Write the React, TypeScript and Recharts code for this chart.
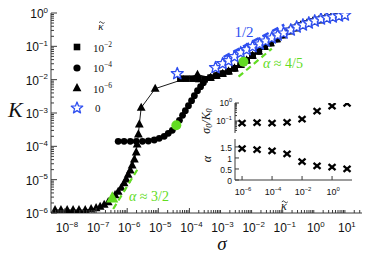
import React from "react";
import { Scatter, ScatterChart, XAxis, YAxis } from "recharts";

// main panel, values as log10(sigma), log10(K)
const triLogSigma = [-8.32, -8.13, -7.93, -7.74, -7.55, -7.35, -7.16, -7.0, -6.87, -6.74, -6.61, -6.48, -6.39, -6.29, -6.19, -6.1, -6.03, -5.97, -5.9, -5.84, -5.77, -5.71, -5.68, -5.64, -5.61, -5.55, -5.1, -3.74];
const triLogK = [-5.91, -5.91, -5.91, -5.91, -5.91, -5.91, -5.88, -5.85, -5.81, -5.75, -5.67, -5.55, -5.46, -5.36, -5.24, -5.1, -4.99, -4.85, -4.72, -4.57, -4.39, -4.18, -3.94, -3.64, -3.34, -2.84, -2.27, -1.85];

const circLogSigma = [-6.29, -6.1, -5.9, -5.71, -5.51, -5.32, -5.13, -4.97, -4.81, -4.68, -4.55, -4.42, -4.32, -4.22, -4.13, -4.03, -3.93, -3.84, -3.74, -3.64, -3.55];
const circLogK = [-3.85, -3.85, -3.85, -3.85, -3.85, -3.84, -3.81, -3.76, -3.7, -3.61, -3.52, -3.37, -3.22, -3.07, -2.93, -2.78, -2.63, -2.48, -2.33, -2.21, -2.09];

const sqLogSigma = [-4.29, -4.1, -3.9, -3.71, -3.51];
const sqLogK = [-1.97, -1.97, -1.97, -1.98, -1.99];

// upper branch where the three finite-kappa curves collapse
const bandLogSigma = [-3.32, -3.13, -2.93, -2.74, -2.55, -2.35, -2.16, -1.97, -1.77, -1.58, -1.39, -1.19, -1.0, -0.8, -0.61, -0.42, -0.22, -0.03, 0.16, 0.36, 0.55, 0.74, 0.94];
const bandLogK = [-1.94, -1.88, -1.82, -1.75, -1.66, -1.55, -1.42, -1.28, -1.15, -1.01, -0.9, -0.78, -0.66, -0.54, -0.45, -0.37, -0.31, -0.25, -0.21, -0.16, -0.13, -0.1, -0.07];

const starLogSigma = [-4.39, -3.16, -2.93, -2.74, -2.55, -2.35, -2.16, -1.97, -1.74, -1.55, -1.35, -1.16, -0.97, -0.74, -0.55, -0.35, -0.16, 0.03, 0.23, 0.42, 0.61, 0.81, 1.0];
const starLogK = [-1.82, -1.64, -1.52, -1.43, -1.31, -1.19, -1.1, -1.01, -0.93, -0.84, -0.75, -0.66, -0.6, -0.51, -0.42, -0.36, -0.3, -0.24, -0.18, -0.15, -0.12, -0.09, -0.06];

// green highlighted points used for the fits
const fitTriLogSigma = [-6.48];
const fitTriLogK = [-5.55];
const fitCircLogSigma = [-4.42, -2.26];
const fitCircLogK = [-3.37, -1.46];

// slope guides (end points)
const guide32Sigma = [-6.45, -5.61];
const guide32K = [-5.88, -4.6];
const guide45Sigma = [-2.42, -1.35];
const guide45K = [-1.91, -1.07];
const guide12Sigma = [-2.9, -0.95];
const guide12K = [-1.32, -0.35];

// inset
const insetLogKappa = [-6, -5, -4, -3, -2, -1, 0, 1];
const insetLogRatio = [-1.12, -1.09, -1.12, -1.07, -0.89, -0.45, -0.17, -0.02];
const insetAlpha = [1.42, 1.38, 1.32, 1.18, 0.83, 0.64, 0.58, 0.5];

// tick labels
const sigmaDecades = [-8, -7, -6, -5, -4, -3, -2, -1, 0, 1];
const kDecades = [-6, -5, -4, -3, -2, -1, 0];
const kappaLabelDecades = [-6, -4, -2, 0];
const ratioDecades = [-2, -1, 0];
const alphaTicks = [0, 0.5, 1, 1.5];

const AXIS = "#3a3a3a";
const BLUE = "#2f4ff0";
const GREEN = "#62dc22";
const SANS = "'Liberation Sans', Arial, sans-serif";
const SERIF = "'Liberation Serif', 'DejaVu Serif', serif";

const pts = (xs: number[], ys: number[]) => xs.map((x, i) => ({ x, y: ys[i] }));

const withMinors = (decades: number[], lo: number, hi: number) => {
  const out: number[] = [];
  for (let n = decades[0] - 1; n <= decades[decades.length - 1]; n++) {
    for (let k = 1; k <= 9; k++) {
      const v = n + Math.log10(k);
      if (v >= lo - 1e-9 && v <= hi + 1e-9) out.push(v);
    }
  }
  return out;
};

const SIGMA_DOMAIN: [number, number] = [-8.45, 1.55];
const K_DOMAIN: [number, number] = [-6, 0];
const KAPPA_DOMAIN: [number, number] = [-6.47, 1.33];

const sigmaTicks = withMinors(sigmaDecades, ...SIGMA_DOMAIN);
const kTicks = withMinors(kDecades, ...K_DOMAIN);
const ratioTicks = withMinors(ratioDecades, -2, 0);

const isDecade = (v: number) => Math.abs(v - Math.round(v)) < 1e-6;
const expText = (n: number) => (n < 0 ? `\u2212${-n}` : `${n}`);

function Pow10({ x, y, exp, size, anchor = "middle" }: { x: number; y: number; exp: number; size: number; anchor?: string }) {
  return (
    <text x={x} y={y} textAnchor={anchor} fontFamily={SANS} fontSize={size} fill="#111">
      10
      <tspan dy={-size * 0.45} fontSize={size * 0.66}>
        {expText(Math.round(exp))}
      </tspan>
    </text>
  );
}

// kappa with a drawn tilde above it
function KappaTilde({ x, y, size }: { x: number; y: number; size: number }) {
  const w = size * 0.25;
  const ty = y - size * 0.72;
  return (
    <g>
      <text x={x} y={y} textAnchor="middle" fontFamily={SERIF} fontStyle="italic" fontSize={size} fill="#111">κ</text>
      <path d={`M${x - w + 0.8},${ty + 0.5} q${w / 2},-${size * 0.16} ${w},0 t${w},0`} fill="none" stroke="#111" strokeWidth={0.8} />
    </g>
  );
}

type TickProps = { x?: number; y?: number; payload?: { value: number } };

// main panel ticks, all drawn inward
const MainBottomTick = ({ x = 0, y = 0, payload }: TickProps) => {
  const v = payload?.value ?? 0;
  const major = isDecade(v);
  return (
    <g>
      <line x1={x} y1={y} x2={x} y2={y - (major ? 5 : 3)} stroke={AXIS} />
      {major && <Pow10 x={x + 2} y={y + 19} exp={v} size={12} />}
    </g>
  );
};
const MainTopTick = ({ x = 0, y = 0, payload }: TickProps) => {
  const major = isDecade(payload?.value ?? 0);
  return <line x1={x} y1={y} x2={x} y2={y + (major ? 5 : 3)} stroke={AXIS} />;
};
const MainLeftTick = ({ x = 0, y = 0, payload }: TickProps) => {
  const v = payload?.value ?? 0;
  const major = isDecade(v);
  return (
    <g>
      <line x1={x} y1={y} x2={x + (major ? 6 : 3)} y2={y} stroke={AXIS} />
      {major && <Pow10 x={x - 3} y={y + 5} exp={v} size={12} anchor="end" />}
    </g>
  );
};
const MainRightTick = ({ x = 0, y = 0, payload }: TickProps) => {
  const major = isDecade(payload?.value ?? 0);
  return <line x1={x} y1={y} x2={x - (major ? 6 : 3)} y2={y} stroke={AXIS} />;
};

// inset ticks
const InsetBottomTick = (labels: boolean) => ({ x = 0, y = 0, payload }: TickProps) => {
  const v = payload?.value ?? 0;
  return (
    <g>
      <line x1={x} y1={y} x2={x} y2={y - 4} stroke={AXIS} />
      {labels && <Pow10 x={x + 1} y={y + 15} exp={v} size={9} />}
    </g>
  );
};
const InsetTopTick = ({ x = 0, y = 0 }: TickProps) => <line x1={x} y1={y} x2={x} y2={y + 4} stroke={AXIS} />;
const InsetRatioLeft = ({ x = 0, y = 0, payload }: TickProps) => {
  const v = payload?.value ?? 0;
  const major = isDecade(v);
  return (
    <g>
      <line x1={x} y1={y} x2={x + (major ? 4 : 2)} y2={y} stroke={AXIS} />
      {major && <Pow10 x={x - 3} y={y + 2.5} exp={v} size={8.5} anchor="end" />}
    </g>
  );
};
const InsetRatioRight = ({ x = 0, y = 0, payload }: TickProps) => {
  const major = isDecade(payload?.value ?? 0);
  return <line x1={x} y1={y} x2={x - (major ? 4 : 2)} y2={y} stroke={AXIS} />;
};
const InsetAlphaLeft = ({ x = 0, y = 0, payload }: TickProps) => (
  <g>
    <line x1={x} y1={y} x2={x + 4} y2={y} stroke={AXIS} />
    <text x={x - 3} y={y + 4} textAnchor="end" fontFamily={SANS} fontSize={8.5} fill="#111">
      {payload?.value}
    </text>
  </g>
);
const InsetAlphaRight = ({ x = 0, y = 0 }: TickProps) => <line x1={x} y1={y} x2={x - 4} y2={y} stroke={AXIS} />;

// marker shapes
const starPoints = (cx: number, cy: number, R: number, r: number) =>
  Array.from({ length: 10 }, (_, i) => {
    const a = -Math.PI / 2 + (i * Math.PI) / 5;
    const rad = i % 2 === 0 ? R : r;
    return `${cx + rad * Math.cos(a)},${cy + rad * Math.sin(a)}`;
  }).join(" ");
const triPoints = (cx: number, cy: number, s: number) =>
  `${cx},${cy - s * 0.62} ${cx - s * 0.55},${cy + s * 0.4} ${cx + s * 0.55},${cy + s * 0.4}`;

const SquareShape = (p: any) => <rect x={p.cx - 3.3} y={p.cy - 3.3} width={6.6} height={6.6} fill="#000" />;
const CircleShape = (p: any) => <circle cx={p.cx} cy={p.cy} r={3.4} fill="#000" />;
const TriShape = (p: any) => <polygon points={triPoints(p.cx, p.cy, 8)} fill="#000" />;
const StarShape = (p: any) => (
  <polygon points={starPoints(p.cx, p.cy, 6.3, 2.7)} fill="#fff" stroke={BLUE} strokeWidth={1.3} strokeLinejoin="round" />
);
const GreenCircle = (p: any) => <circle cx={p.cx} cy={p.cy} r={5} fill={GREEN} />;
const GreenTri = (p: any) => <polygon points={triPoints(p.cx, p.cy, 11)} fill={GREEN} />;
const CrossShape = (p: any) => (
  <g stroke="#000" strokeWidth={2.3}>
    <line x1={p.cx - 3.5} y1={p.cy - 3} x2={p.cx + 3.5} y2={p.cy + 3} />
    <line x1={p.cx - 3.5} y1={p.cy + 3} x2={p.cx + 3.5} y2={p.cy - 3} />
  </g>
);
const NoShape = () => <g />;

const thinLine = { stroke: "#000", strokeWidth: 0.9 };

function InsetPanel({ top, height, marginTop, xHeight, yDomain, yTicks, data, LeftTick, RightTick, labels }: any) {
  return (
    <div style={{ position: "absolute", left: 200, top, width: 156, height, background: "#fff" }}>
      <ScatterChart width={156} height={height} margin={{ top: marginTop, right: 4, bottom: 0, left: 0 }}>
        <XAxis type="number" dataKey="x" domain={KAPPA_DOMAIN} allowDataOverflow ticks={kappaLabelDecades} interval={0}
          height={xHeight} tickSize={0} tickMargin={0} tickLine={false} axisLine={{ stroke: AXIS }} tick={InsetBottomTick(labels)} />
        <XAxis xAxisId="top" orientation="top" type="number" domain={KAPPA_DOMAIN} allowDataOverflow ticks={kappaLabelDecades}
          interval={0} height={0} tickSize={0} tickMargin={0} tickLine={false} axisLine={{ stroke: AXIS }} tick={InsetTopTick} />
        <YAxis type="number" dataKey="y" domain={yDomain} allowDataOverflow ticks={yTicks} interval={0} width={35}
          tickSize={0} tickMargin={0} tickLine={false} axisLine={{ stroke: AXIS }} tick={LeftTick} />
        <YAxis yAxisId="right" orientation="right" type="number" domain={yDomain} allowDataOverflow ticks={yTicks} interval={0}
          width={0} tickSize={0} tickMargin={0} tickLine={false} axisLine={{ stroke: AXIS }} tick={RightTick} />
        <Scatter data={data} shape={CrossShape} isAnimationActive={false} />
      </ScatterChart>
    </div>
  );
}

export default function App() {
  return (
    <div style={{ position: "absolute", left: 0, top: 0, width: 390, height: 254, background: "#fff", overflow: "hidden" }}>
      <ScatterChart width={390} height={254} margin={{ top: 13, right: 28, bottom: 0, left: 0 }}>
        <XAxis type="number" dataKey="x" domain={SIGMA_DOMAIN} allowDataOverflow ticks={sigmaTicks} interval={0} height={41}
          tickSize={0} tickMargin={0} tickLine={false} axisLine={{ stroke: AXIS }} tick={MainBottomTick} />
        <XAxis xAxisId="top" orientation="top" type="number" domain={SIGMA_DOMAIN} allowDataOverflow ticks={sigmaTicks}
          interval={0} height={0} tickSize={0} tickMargin={0} tickLine={false} axisLine={{ stroke: AXIS }} tick={MainTopTick} />
        <YAxis type="number" dataKey="y" domain={K_DOMAIN} allowDataOverflow ticks={kTicks} interval={0} width={51}
          tickSize={0} tickMargin={0} tickLine={false} axisLine={{ stroke: AXIS }} tick={MainLeftTick} />
        <YAxis yAxisId="right" orientation="right" type="number" domain={K_DOMAIN} allowDataOverflow ticks={kTicks}
          interval={0} width={0} tickSize={0} tickMargin={0} tickLine={false} axisLine={{ stroke: AXIS }} tick={MainRightTick} />

        <Scatter data={pts([...triLogSigma, ...bandLogSigma], [...triLogK, ...bandLogK])} shape={TriShape} line={thinLine} lineType="joint" isAnimationActive={false} />
        <Scatter data={pts([...circLogSigma, ...bandLogSigma], [...circLogK, ...bandLogK])} shape={CircleShape} line={thinLine} lineType="joint" isAnimationActive={false} />
        <Scatter data={pts([...sqLogSigma, ...bandLogSigma], [...sqLogK, ...bandLogK])} shape={SquareShape} line={thinLine} lineType="joint" isAnimationActive={false} />

        <Scatter data={pts(guide32Sigma, guide32K)} shape={NoShape} line={{ stroke: GREEN, strokeWidth: 2.2, strokeDasharray: "6 4" }} lineType="joint" isAnimationActive={false} />
        <Scatter data={pts(guide45Sigma, guide45K)} shape={NoShape} line={{ stroke: GREEN, strokeWidth: 2.2, strokeDasharray: "6 4" }} lineType="joint" isAnimationActive={false} />

        <Scatter data={pts(starLogSigma, starLogK)} shape={StarShape} isAnimationActive={false} />
        <Scatter data={pts(guide12Sigma, guide12K)} shape={NoShape} line={{ stroke: BLUE, strokeWidth: 2.5, strokeDasharray: "7 4" }} lineType="joint" isAnimationActive={false} />

        <Scatter data={pts(fitTriLogSigma, fitTriLogK)} shape={GreenTri} isAnimationActive={false} />
        <Scatter data={pts(fitCircLogSigma, fitCircLogK)} shape={GreenCircle} isAnimationActive={false} />
      </ScatterChart>

      <InsetPanel top={95} height={50} marginTop={8} xHeight={6} yDomain={[-2, 0]} yTicks={ratioTicks}
        data={pts(insetLogKappa, insetLogRatio)} LeftTick={InsetRatioLeft} RightTick={InsetRatioRight} labels={false} />
      <InsetPanel top={133} height={77} marginTop={6} xHeight={30} yDomain={[0, 1.86]} yTicks={alphaTicks}
        data={pts(insetLogKappa, insetAlpha)} LeftTick={InsetAlphaLeft} RightTick={InsetAlphaRight} labels={true} />

      <svg width={390} height={254} style={{ position: "absolute", left: 0, top: 0, pointerEvents: "none" }}>
        <text x={8} y={117} fontFamily={SERIF} fontStyle="italic" fontSize={22} fill="#111">K</text>
        <text x={222} y={250} textAnchor="middle" fontFamily={SERIF} fontStyle="italic" fontSize={19} fill="#111">σ</text>

        <text x={244} y={37} textAnchor="middle" fontFamily={SERIF} fontSize={15} fill={BLUE}>1/2</text>
        <text x={263} y={68} fontFamily={SERIF} fontSize={14} fill={GREEN}>
          <tspan fontStyle="italic">α</tspan> ≈ 4/5
        </text>
        <text x={129} y={201} fontFamily={SERIF} fontSize={14} fill={GREEN}>
          <tspan fontStyle="italic">α</tspan> ≈ 3/2
        </text>

        {/* legend */}
        <KappaTilde x={101} y={30} size={11} />
        <rect x={73.7} y={43.7} width={6.6} height={6.6} fill="#000" />
        <circle cx={77} cy={68} r={3.6} fill="#000" />
        <polygon points={triPoints(77, 88, 8)} fill="#000" />
        <polygon points={starPoints(77, 108, 6, 2.6)} fill="#fff" stroke={BLUE} strokeWidth={1.3} strokeLinejoin="round" />
        {[-2, -4, -6].map((e, i) => (
          <text key={e} x={93} y={51.5 + i * 20.5} fontFamily={SERIF} fontSize={11} fill="#111">
            10<tspan dy={-5} fontSize={7.5}>{expText(e)}</tspan>
          </text>
        ))}
        <text x={95} y={112} fontFamily={SERIF} fontSize={11} fill="#111">0</text>

        {/* inset axis titles */}
        <text transform="translate(210,121) rotate(-90)" textAnchor="middle" fontFamily={SERIF} fontStyle="italic" fontSize={12} fill="#111">
          σ<tspan fontSize={8} dy={2}>0</tspan>
          <tspan dy={-2}>/K</tspan>
          <tspan fontSize={8} dy={2}>0</tspan>
        </text>
        <text transform="translate(211,159) rotate(-90)" textAnchor="middle" fontFamily={SERIF} fontStyle="italic" fontSize={12} fill="#111">α</text>
        <KappaTilde x={284} y={210} size={12} />
      </svg>
    </div>
  );
}
